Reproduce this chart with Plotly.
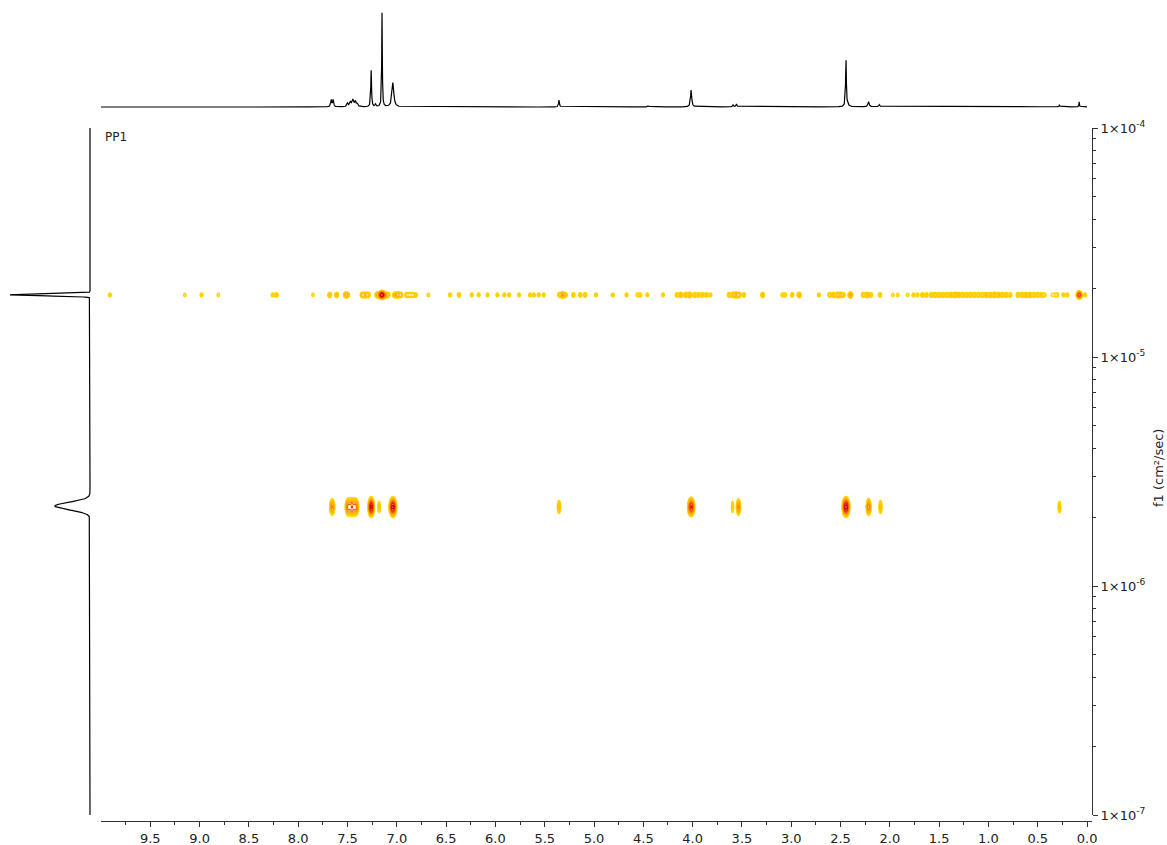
import numpy as np
import plotly.graph_objects as go

W, H = 1167, 845

# ---------------- data ----------------
# 1D proton spectrum (top projection): peak positions (ppm), heights, half-widths (ppm)
TOP_PPM = [7.665, 7.645, 7.50, 7.47, 7.445, 7.42, 7.40, 7.26, 7.215, 7.15, 7.04,
           5.355, 4.45, 4.015, 3.59, 3.555, 2.445, 2.425, 2.215, 2.105, 1.35, 0.28, 0.08]
TOP_H = [7, 7, 3.5, 4.5, 7, 5, 2.5, 36, 2.5, 93, 24,
         7, 1.2, 17, 2, 3, 48, 3, 5, 2, 0.8, 2, 5]
TOP_W = [0.006, 0.006, 0.008, 0.008, 0.01, 0.008, 0.008, 0.0045, 0.006, 0.0035, 0.011,
         0.005, 0.008, 0.007, 0.006, 0.006, 0.0045, 0.006, 0.007, 0.006, 0.6, 0.004, 0.003]

# DOSY rows (log10 of diffusion coefficient, cm2/sec)
ROW_UP_LOGD = -4.729
ROW_LO_LOGD = -5.655

# upper row (fast diffusing species) : ppm, relative intensity
UP_PPM = [9.91, 9.15, 8.98, 8.81, 8.26, 8.22, 7.85, 7.68, 7.61, 7.52, 7.50,
          7.35, 7.32, 7.29, 7.20, 7.17, 7.15, 7.12, 7.09,
          7.02, 6.99, 6.96, 6.90, 6.87, 6.84, 6.81,
          6.68, 6.46, 6.37, 6.24, 6.17, 6.08, 5.98, 5.91, 5.86, 5.76,
          5.65, 5.61, 5.56, 5.51, 5.35, 5.32, 5.29, 5.21, 5.14, 5.09, 4.98, 4.81, 4.67, 4.56, 4.53, 4.46,
          4.30, 4.16, 4.12, 4.07, 4.03, 3.98, 3.94, 3.90, 3.86, 3.82,
          3.63, 3.59, 3.56, 3.53, 3.48, 3.29, 3.09, 3.06, 2.99, 2.92, 2.72,
          2.61, 2.57, 2.53, 2.50, 2.47, 2.40, 2.27, 2.23, 2.19, 2.10, 1.97, 1.92, 1.82,
          1.76, 1.72, 1.67, 1.63, 1.58, 1.54, 1.50, 1.46, 1.42, 1.38, 1.34, 1.30, 1.26,
          1.22, 1.18, 1.14, 1.10, 1.06, 1.02, 0.98, 0.94, 0.90, 0.86, 0.82, 0.78,
          0.70, 0.66, 0.62, 0.58, 0.54, 0.50, 0.46, 0.43, 0.35, 0.32, 0.30, 0.24, 0.20,
          0.08, 0.02]
UP_AMP = [0.03, 0.025, 0.03, 0.025, 0.03, 0.04, 0.025, 0.06, 0.06, 0.08, 0.06,
          0.07, 0.08, 0.07, 0.08, 0.2, 1.0, 0.15, 0.06,
          0.08, 0.1, 0.07, 0.05, 0.05, 0.05, 0.04,
          0.025, 0.03, 0.04, 0.03, 0.03, 0.03, 0.03, 0.03, 0.03, 0.03,
          0.03, 0.03, 0.03, 0.03, 0.05, 0.12, 0.05, 0.04, 0.04, 0.04, 0.03, 0.03, 0.03, 0.03, 0.03, 0.03,
          0.03, 0.04, 0.06, 0.06, 0.07, 0.05, 0.04, 0.04, 0.04, 0.03,
          0.05, 0.06, 0.08, 0.07, 0.04, 0.06, 0.03, 0.03, 0.04, 0.07, 0.03,
          0.05, 0.06, 0.07, 0.06, 0.04, 0.12, 0.05, 0.07, 0.04, 0.04, 0.025, 0.025, 0.025,
          0.03, 0.03, 0.04, 0.04, 0.05, 0.05, 0.05, 0.05, 0.05, 0.06, 0.07, 0.06, 0.05,
          0.05, 0.05, 0.05, 0.05, 0.05, 0.06, 0.06, 0.07, 0.06, 0.05, 0.05, 0.04,
          0.05, 0.05, 0.06, 0.06, 0.05, 0.05, 0.04, 0.03, 0.025, 0.025, 0.025, 0.03, 0.03,
          0.5, 0.03]

# lower row (slow diffusing species): ppm, relative intensity, width (ppm)
LO_PPM = [7.655, 7.49, 7.455, 7.42, 7.26, 7.18, 7.04, 5.355, 4.015, 3.595, 3.535,
          2.445, 2.215, 2.095, 0.28]
LO_AMP = [0.18, 0.3, 0.34, 0.3, 0.85, 0.05, 0.85, 0.07, 0.55, 0.045, 0.18,
          0.9, 0.22, 0.07, 0.05]
LO_SX = [0.012, 0.014, 0.014, 0.014, 0.012, 0.008, 0.014, 0.01, 0.014, 0.008, 0.01,
         0.014, 0.011, 0.009, 0.009]

# left projection (diffusion dimension): log10 D centres, heights, widths (decades)
LEFT_LOGD = [ROW_UP_LOGD, -5.651]
LEFT_H = [1.0, 0.44]
LEFT_SIG = [0.004, 0.0165]

X_TICKS = [9.5, 9.0, 8.5, 8.0, 7.5, 7.0, 6.5, 6.0, 5.5, 5.0, 4.5, 4.0, 3.5, 3.0,
           2.5, 2.0, 1.5, 1.0, 0.5, 0.0]
Y_TICKS = [1e-4, 1e-5, 1e-6, 1e-7]
Y_TICK_TEXT = ["1×10<sup>-4</sup>", "1×10<sup>-5</sup>", "1×10<sup>-6</sup>", "1×10<sup>-7</sup>"]

# ---------------- build curves / maps ----------------
ppm_spec = np.arange(0.0, 10.0 + 1e-9, 0.002)
spec = np.zeros_like(ppm_spec)
for p, h, w in zip(TOP_PPM, TOP_H, TOP_W):
    spec += h / (1 + ((ppm_spec - p) / w) ** 2)

xg = np.arange(-0.05, 10.0 + 1e-9, 0.004)

SY_UP, SX_UP = 0.007, 0.012
yu = np.arange(ROW_UP_LOGD - 0.03, ROW_UP_LOGD + 0.03 + 1e-9, 0.0015)
gx = np.zeros_like(xg)
for p, a in zip(UP_PPM, UP_AMP):
    gx += a * np.exp(-0.5 * ((xg - p) / SX_UP) ** 2)
gy = np.exp(-0.5 * ((yu - ROW_UP_LOGD) / SY_UP) ** 2)
Zu = np.log10(gy[:, None] * gx[None, :] + 1e-4)
Zu = np.round(np.clip(Zu, -3, 1), 3)

SY_LO = 0.016
yl = np.arange(ROW_LO_LOGD - 0.07, ROW_LO_LOGD + 0.07 + 1e-9, 0.003)
gx2 = np.zeros_like(xg)
for p, a, s in zip(LO_PPM, LO_AMP, LO_SX):
    gx2 += a * np.exp(-0.5 * ((xg - p) / s) ** 2)
gy2 = np.exp(-0.5 * ((yl - ROW_LO_LOGD) / SY_LO) ** 2)
Zl = np.log10(gy2[:, None] * gx2[None, :] + 1e-4)
Zl = np.round(np.clip(Zl, -3, 1), 3)

logd = np.arange(-7.0, -4.0 + 1e-9, 0.0005)
proj = np.zeros_like(logd)
for c, h, s in zip(LEFT_LOGD, LEFT_H, LEFT_SIG):
    proj += h * np.exp(-0.5 * ((logd - c) / s) ** 2)

# ---------------- figure ----------------
CSCALE = [[0.0, "#FFD800"], [0.3, "#FFC800"], [0.5, "#FFA800"], [0.7, "#FF7000"],
          [0.85, "#FF2000"], [1.0, "#C00000"]]
CONT = dict(start=-1.9, end=0.0, size=0.16, coloring="lines")

fig = go.Figure()
fig.add_trace(go.Contour(x=xg, y=10 ** yu, z=Zu, contours=CONT, autocontour=False,
                         colorscale=CSCALE, zmin=-1.9, zmax=0, showscale=False,
                         line=dict(width=1.1, smoothing=0), hoverinfo="skip"))
fig.add_trace(go.Contour(x=xg, y=10 ** yl, z=Zl, contours=CONT, autocontour=False,
                         colorscale=CSCALE, zmin=-1.9, zmax=0, showscale=False,
                         line=dict(width=1.1, smoothing=0), hoverinfo="skip"))
fig.add_trace(go.Scatter(x=ppm_spec, y=spec, mode="lines", xaxis="x2", yaxis="y2",
                         line=dict(color="black", width=1.2), hoverinfo="skip"))
fig.add_trace(go.Scatter(x=proj, y=10 ** logd, mode="lines", xaxis="x3", yaxis="y",
                         line=dict(color="black", width=1.2), hoverinfo="skip"))

xdom = [101 / W, 1092 / W]
font = dict(family="DejaVu Sans, Verdana, sans-serif", size=13, color="#222")

fig.update_layout(
    width=W, height=H, margin=dict(l=0, r=0, t=0, b=0),
    plot_bgcolor="white", paper_bgcolor="white", showlegend=False, font=font,
    xaxis=dict(domain=xdom, range=[10.0, -0.05], anchor="free", position=1 - 821 / H,
               showline=True, linecolor="#333", linewidth=1, ticks="outside",
               ticklen=5, tickcolor="#333", tickvals=X_TICKS,
               ticktext=[f"{v:.1f}" for v in X_TICKS], showgrid=False, zeroline=False,
               minor=dict(tickvals=[v + 0.25 for v in X_TICKS], ticks="outside",
                          ticklen=3, tickcolor="#333"),
               automargin=False, tickfont=font),
    yaxis=dict(domain=[1 - 815 / H, 1 - 128 / H], type="log", range=[-7, -4],
               side="right", anchor="free", position=1092 / W,
               showline=True, linecolor="#333", linewidth=1, ticks="outside",
               ticklen=5, tickcolor="#333", tickvals=Y_TICKS, ticktext=Y_TICK_TEXT,
               showgrid=False, zeroline=False,
               minor=dict(tickvals=[k * 10.0 ** e for e in range(-7, -4) for k in range(2, 10)],
                          ticks="outside", ticklen=3, tickcolor="#333"),
               automargin=False, tickfont=font),
    xaxis2=dict(domain=xdom, range=[10.0, -0.05], anchor="y2", visible=False),
    yaxis2=dict(domain=[1 - 110 / H, 1.0], range=[-2.97, 105.9], anchor="x2", visible=False),
    xaxis3=dict(domain=[0, 100 / W], range=[1.125, -0.125], anchor="free", position=0,
                visible=False),
    annotations=[
        dict(text="PP1", x=103 / W, y=1 - 137 / H, xref="paper", yref="paper",
             xanchor="left", yanchor="middle", showarrow=False,
             font=dict(family="DejaVu Sans, Verdana, sans-serif", size=12, color="#222")),
        dict(text="f1 (cm²/sec)", x=1158 / W, y=1 - 468 / H, xref="paper", yref="paper",
             xanchor="center", yanchor="middle", textangle=-90, showarrow=False,
             font=dict(family="DejaVu Sans, Verdana, sans-serif", size=13, color="#222")),
    ],
)

fig.write_html("out.html", config={"displayModeBar": False},
               post_script="document.body.style.margin='0';document.body.style.padding='0';"
                           "document.body.style.overflow='hidden';")
